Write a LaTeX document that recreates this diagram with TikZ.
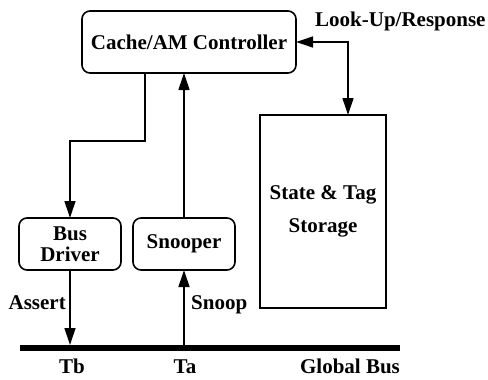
\documentclass[tikz,border=0pt]{standalone}
\usepackage{fontspec}
\setmainfont{Liberation Serif}
\usetikzlibrary{arrows.meta}
\begin{document}
\begin{tikzpicture}[x=1pt,y=-1pt,
  every node/.style={font=\fontsize{21}{20.5}\selectfont\bfseries},
  rbox/.style={draw,line width=1.6pt,rounded corners=8pt,inner sep=0pt,outer sep=0pt,align=center},
  sbox/.style={draw,line width=1.6pt,inner sep=0pt,outer sep=0pt,align=center},
  arr/.style={line width=1.3pt,-{Triangle[length=17pt,width=11pt]}},
  arrboth/.style={line width=1.3pt,{Triangle[length=17pt,width=11pt]}-{Triangle[length=17pt,width=11pt]}},
  lbl/.style={inner sep=0pt}]
\useasboundingbox (0,0) rectangle (488,380);
% boxes
\node[rbox,minimum width=214pt,minimum height=62pt] (ctrl) at (189,42) {Cache/AM Controller};
\node[rbox,minimum width=102pt,minimum height=52pt] (drv) at (70,244) {Bus\\Driver};
\node[rbox,minimum width=102pt,minimum height=52pt] (snp) at (184,244) {Snooper};
\node[sbox,minimum width=126pt,minimum height=193pt] (sto) at (323,211.5) {State \& Tag\\[12pt]Storage};
% bus
\coordinate (busL) at (20,348);
\coordinate (busR) at (400,348);
\draw[line width=6pt] (busL) -- (busR);
\coordinate (tb) at (70,345);
\coordinate (ta) at (184,345);
% connectors
\coordinate (k1) at (145,141);
\draw[arr] (k1 |- ctrl.south) -- (k1) -| (drv.north);
\draw[arr] (snp.north) -- (snp.north |- ctrl.south);
\coordinate (k2) at (348,42);
\draw[arrboth] (ctrl.east) -- (k2) -- (k2 |- sto.north);
\draw[arr] (drv.south) -- (tb);
\draw[arr] (ta) -- (snp.south);
% labels
\node[lbl,anchor=base west] (lu) at (315,27) {Look-Up/Response};
\node[lbl,anchor=base east] (as) at (66,309) {Assert};
\node[lbl,anchor=base west] (sn) at (191,309) {Snoop};
\node[lbl,anchor=base] (ltb) at (72,373) {Tb};
\node[lbl,anchor=base] (lta) at (185,373) {Ta};
\node[lbl,anchor=base] (lgb) at (350,373) {Global Bus};
\end{tikzpicture}
\end{document}
